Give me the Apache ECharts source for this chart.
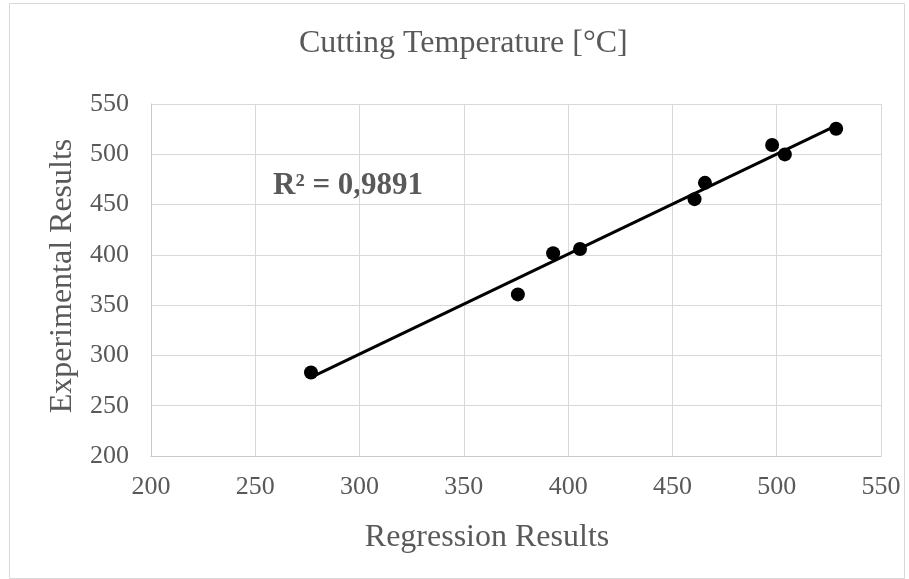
<!DOCTYPE html>
<html>
<head>
<meta charset="utf-8">
<script src="https://cdn.jsdelivr.net/npm/echarts@6.0.0/dist/echarts.min.js"></script>
<style>
  html, body { margin: 0; padding: 0; background: #ffffff; }
  #chart { width: 909px; height: 579px; }
</style>
</head>
<body>
<div id="chart"></div>
<script>
// values
const regressionResults = [276.7, 375.9, 392.8, 405.7, 460.6, 465.6, 497.8, 503.9, 528.5];
const experimentalResults = [283.0, 360.7, 401.6, 405.8, 455.4, 471.6, 509.2, 499.9, 525.4];
const axisTicks = [200, 250, 300, 350, 400, 450, 500, 550];
const chartTitle = 'Cutting Temperature [°C]';
const xName = 'Regression Results';
const yName = 'Experimental Results';
const r2Label = 'R² = 0,9891';

const FONT = '"Liberation Serif", "Times New Roman", serif';
const TEXT = '#595959';

// least squares trendline, as Excel draws it over the data's x range
function linearFit(xs, ys) {
  const n = xs.length;
  const mx = xs.reduce((a, b) => a + b, 0) / n;
  const my = ys.reduce((a, b) => a + b, 0) / n;
  let sxy = 0, sxx = 0;
  for (let i = 0; i < n; i++) {
    sxy += (xs[i] - mx) * (ys[i] - my);
    sxx += (xs[i] - mx) * (xs[i] - mx);
  }
  const slope = sxy / sxx;
  return { slope, intercept: my - slope * mx };
}

const fit = linearFit(regressionResults, experimentalResults);
const xMin = Math.min(...regressionResults);
const xMax = Math.max(...regressionResults);
const trend = [xMin, xMax].map((x) => [x, fit.intercept + fit.slope * x]);
const points = regressionResults.map((x, i) => [x, experimentalResults[i]]);

const axisCommon = {
  type: 'value',
  min: axisTicks[0],
  max: axisTicks[axisTicks.length - 1],
  interval: axisTicks[1] - axisTicks[0],
  axisTick: { show: false },
  axisLine: { show: true, lineStyle: { color: '#c9c9c9', width: 1 } },
  splitLine: { show: true, lineStyle: { color: '#d9d9d9', width: 1 } },
  axisLabel: { color: TEXT, fontFamily: FONT, fontSize: 26 },
  nameLocation: 'middle',
};

const chart = echarts.init(document.getElementById('chart'), null, { renderer: 'canvas' });
chart.setOption({
  backgroundColor: '#ffffff',
  animation: false,
  title: {
    text: chartTitle,
    left: 294,
    top: 23,
    textStyle: { color: TEXT, fontFamily: FONT, fontSize: 32, fontWeight: 'normal' },
  },
  grid: { left: 151, right: 28, top: 104, bottom: 123 },
  xAxis: Object.assign({}, axisCommon, {
    name: xName,
    nameGap: 66,
    // Excel puts this title a bit left of the plot centre
    nameTextStyle: { color: TEXT, fontFamily: FONT, fontSize: 32, padding: [0, 58, 0, 0] },
    axisLabel: Object.assign({}, axisCommon.axisLabel, { margin: 18 }),
  }),
  yAxis: Object.assign({}, axisCommon, {
    name: yName,
    nameGap: 72,
    nameTextStyle: { color: TEXT, fontFamily: FONT, fontSize: 32, padding: [0, 0, 0, 8] },
    axisLabel: Object.assign({}, axisCommon.axisLabel, { margin: 22 }),
  }),
  graphic: [
    {
      type: 'rect',
      left: 7,
      top: 1,
      shape: { width: 895, height: 575 },
      style: { fill: 'none', stroke: '#d9d9d9', lineWidth: 1 },
      silent: true,
    },
    {
      type: 'text',
      left: 273,
      top: 170,
      style: { text: r2Label, fill: TEXT, font: 'bold 31px ' + FONT },
    },
  ],
  series: [
    {
      type: 'line',
      data: trend,
      showSymbol: false,
      lineStyle: { color: '#000000', width: 3 },
      z: 2,
    },
    {
      type: 'scatter',
      data: points,
      symbol: 'circle',
      symbolSize: 14,
      itemStyle: { color: '#000000', opacity: 1 },
      z: 3,
    },
  ],
});
</script>
</body>
</html>
